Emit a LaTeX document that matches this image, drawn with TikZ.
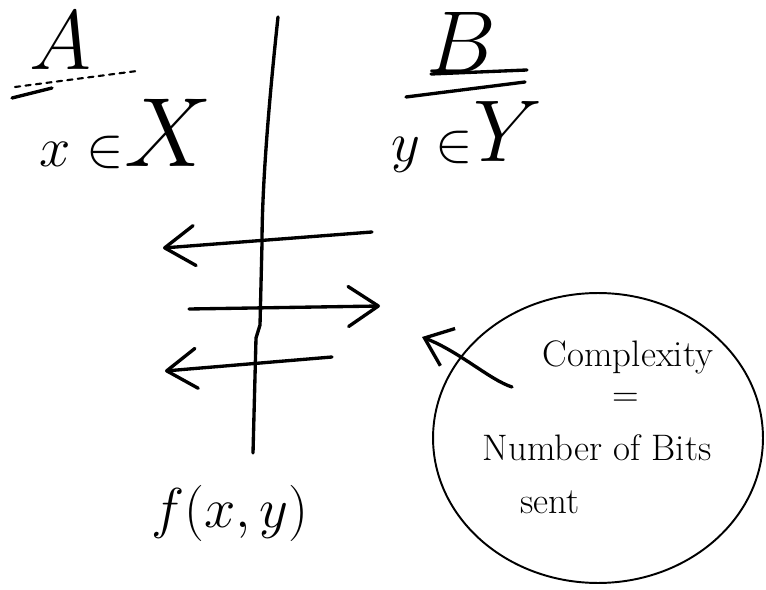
\RequirePackage{fix-cm}
\documentclass[tikz,border=0pt]{standalone}
\usetikzlibrary{arrows.meta,shapes.geometric}

\begin{document}
\begin{tikzpicture}[x=0.02cm, y=-0.02cm,
    pen/.style={line width=1.9pt, line cap=round, line join=round},
    msg/.style={pen, -{Straight Barb[round, length=6mm, width=8mm]}},
    hand/.style={inner sep=0pt, font=\fontsize{21}{24}\selectfont}]
    \useasboundingbox (0,0) rectangle (766,590);

    % Left side: A
    \node[inner sep=0pt] (A) at (60,41) {\fontsize{48}{48}\selectfont $A$};
    \draw[pen] (12,98) -- (52,88);
    \draw[pen, line width=1.2pt, dashed] (15,87) -- (137,71);
    \node[inner sep=0pt, anchor=base] (xinX) at (126,167)
        {\fontsize{32}{32}\selectfont $x\in$\fontsize{56}{56}\selectfont $X$};

    % Right side: B
    \node[inner sep=0pt] (B) at (461,42) {\fontsize{50}{50}\selectfont $B$};
    \draw[pen] (431,74) -- (527,70);
    \draw[pen] (406,97) -- (525,82);
    \node[inner sep=0pt, anchor=base] (yinY) at (467,162)
        {\fontsize{32}{32}\selectfont $y\in$\fontsize{50}{50}\selectfont $Y$};

    % Dividing line
    \coordinate (top) at (278,17);
    \coordinate (bot) at (253,453);
    \draw[pen] (top) .. controls (268,110) and (262,190) .. (262,243)
        -- (260,325) -- (256,338) -- (bot);

    % Messages across the line
    \coordinate (m1s) at (372,232);
    \coordinate (m1e) at (163,248);
    \coordinate (m2s) at (189,309);
    \coordinate (m2e) at (380,306);
    \coordinate (m3s) at (332,357);
    \coordinate (m3e) at (165,371);
    \draw[msg] (m1s) -- (m1e);
    \draw[msg] (m2s) -- (m2e);
    \draw[msg] (m3s) -- (m3e);

    % Output
    \node[inner sep=0pt, anchor=base] (fxy) at (230,527)
        {\fontsize{32}{32}\selectfont $f(x,y)$};

    % Note on complexity
    \node[draw, ellipse, line width=1.1pt, minimum width=6.6cm,
        minimum height=5.8cm] (bubble) at (598,438) {};
    \node[hand, anchor=base] (cplx) at (628,367) {Complexity};
    \node[hand] (eq) at (626,400) {=};
    \node[hand, anchor=base] (nbits) at (597,460) {Number of Bits};
    \node[hand, anchor=base] (sent) at (550,513) {sent};

    \coordinate (m4s) at (512,387);
    \coordinate (m4e) at (422,337);
    \draw[pen, -{Straight Barb[length=5mm, width=8mm]}] (m4s)
        .. controls (490,380) and (460,352) .. (m4e);
\end{tikzpicture}
\end{document}
